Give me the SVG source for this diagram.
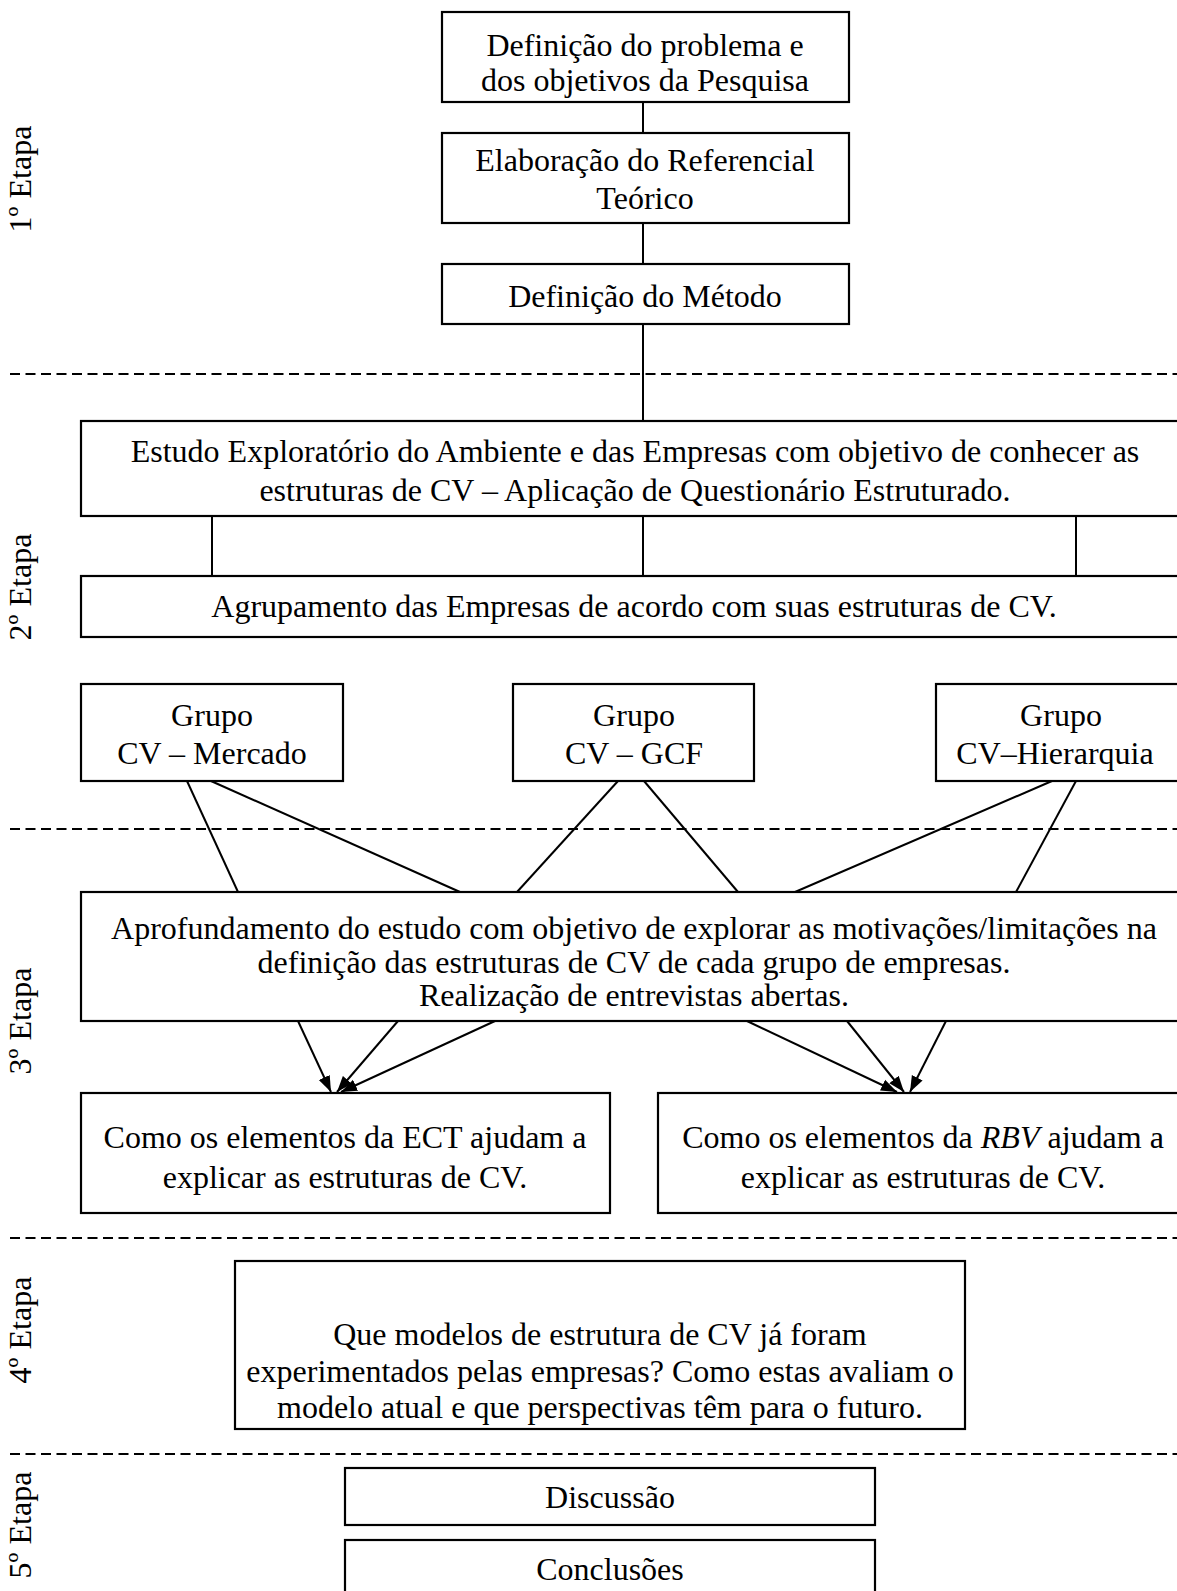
<svg xmlns="http://www.w3.org/2000/svg" width="1177" height="1591" viewBox="0 0 1177 1591">
  <style>
    .box { fill: #fff; stroke: #000; stroke-width: 2.2; }
    .t { font-family: "Liberation Serif", "Times New Roman", serif; font-size: 32px; fill: #000; text-anchor: middle; }
    .c { stroke: #000; stroke-width: 2; fill: none; }
    .arr { marker-end: url(#ah); }
    .sep { stroke: #000; stroke-width: 2; stroke-dasharray: 10 5.5; }
  </style>
  <defs>
    <marker id="ah" markerUnits="userSpaceOnUse" markerWidth="17" markerHeight="14" refX="16" refY="7" orient="auto">
      <path d="M0,1 L16,7 L0,13 z" fill="#000"/>
    </marker>
  </defs>

  <rect width="1177" height="1591" fill="#fff"/>

  <!-- stage separators -->
  <g id="separators">
    <line class="sep" x1="10" y1="374" x2="1177" y2="374"/>
    <line class="sep" x1="10" y1="829" x2="1177" y2="829"/>
    <line class="sep" x1="10" y1="1238" x2="1177" y2="1238"/>
    <line class="sep" x1="10" y1="1454" x2="1177" y2="1454"/>
  </g>

  <!-- stage labels -->
  <g id="stage-labels">
    <text class="t" transform="translate(31,179) rotate(-90)">1º Etapa</text>
    <text class="t" transform="translate(31,587) rotate(-90)">2º Etapa</text>
    <text class="t" transform="translate(31,1021) rotate(-90)">3º Etapa</text>
    <text class="t" transform="translate(31,1330) rotate(-90)">4º Etapa</text>
    <text class="t" transform="translate(31,1525) rotate(-90)">5º Etapa</text>
  </g>

  <!-- connectors -->
  <g id="connectors">
    <line class="c" x1="643" y1="102" x2="643" y2="133"/>
    <line class="c" x1="643" y1="223" x2="643" y2="264"/>
    <line class="c" x1="643" y1="324" x2="643" y2="421"/>
    <line class="c" x1="212" y1="516" x2="212" y2="576"/>
    <line class="c" x1="643" y1="516" x2="643" y2="576"/>
    <line class="c" x1="1076" y1="516" x2="1076" y2="576"/>
    <line class="c" x1="187" y1="781" x2="238" y2="892"/>
    <line class="c" x1="211" y1="781" x2="460" y2="892"/>
    <line class="c" x1="618" y1="781" x2="517" y2="892"/>
    <line class="c" x1="644" y1="781" x2="738" y2="892"/>
    <line class="c" x1="1052" y1="781" x2="795" y2="892"/>
    <line class="c" x1="1076" y1="781" x2="1016" y2="892"/>
    <line class="c arr" x1="298" y1="1021" x2="331" y2="1092"/>
    <line class="c arr" x1="398" y1="1021" x2="337" y2="1092"/>
    <line class="c arr" x1="495" y1="1021" x2="341" y2="1092"/>
    <line class="c arr" x1="747" y1="1021" x2="897" y2="1092"/>
    <line class="c arr" x1="847" y1="1021" x2="904" y2="1092"/>
    <line class="c arr" x1="946" y1="1021" x2="910" y2="1092"/>
  </g>

  <g id="n-problema">
    <rect class="box" x="442" y="12" width="407" height="90"/>
    <text class="t" x="645" y="56">Definição do problema e</text>
    <text class="t" x="645" y="91">dos objetivos da Pesquisa</text>
  </g>
  <g id="n-referencial">
    <rect class="box" x="442" y="133" width="407" height="90"/>
    <text class="t" x="645" y="171">Elaboração do Referencial</text>
    <text class="t" x="645" y="209">Teórico</text>
  </g>
  <g id="n-metodo">
    <rect class="box" x="442" y="264" width="407" height="60"/>
    <text class="t" x="645" y="307">Definição do Método</text>
  </g>
  <g id="n-exploratorio">
    <rect class="box" x="81" y="421" width="1110" height="95"/>
    <text class="t" x="635" y="462">Estudo Exploratório do Ambiente e das Empresas com objetivo de conhecer as</text>
    <text class="t" x="635" y="501">estruturas de CV – Aplicação de Questionário Estruturado.</text>
  </g>
  <g id="n-agrupamento">
    <rect class="box" x="81" y="576" width="1110" height="61"/>
    <text class="t" x="634" y="617">Agrupamento das Empresas de acordo com suas estruturas de CV.</text>
  </g>
  <g id="n-mercado">
    <rect class="box" x="81" y="684" width="262" height="97"/>
    <text class="t" x="212" y="726">Grupo</text>
    <text class="t" x="212" y="764">CV – Mercado</text>
  </g>
  <g id="n-gcf">
    <rect class="box" x="513" y="684" width="241" height="97"/>
    <text class="t" x="634" y="726">Grupo</text>
    <text class="t" x="634" y="764">CV – GCF</text>
  </g>
  <g id="n-hierarquia">
    <rect class="box" x="936" y="684" width="255" height="97"/>
    <text class="t" x="1061" y="726">Grupo</text>
    <text class="t" x="1055" y="764">CV–Hierarquia</text>
  </g>
  <g id="n-aprofundamento">
    <rect class="box" x="81" y="892" width="1110" height="129"/>
    <text class="t" x="634" y="939">Aprofundamento do estudo com objetivo de explorar as motivações/limitações na</text>
    <text class="t" x="634" y="973">definição das estruturas de CV de cada grupo de empresas.</text>
    <text class="t" x="634" y="1006">Realização de entrevistas abertas.</text>
  </g>
  <g id="n-ect">
    <rect class="box" x="81" y="1093" width="529" height="120"/>
    <text class="t" x="345" y="1148">Como os elementos da ECT ajudam a</text>
    <text class="t" x="345" y="1188">explicar as estruturas de CV.</text>
  </g>
  <g id="n-rbv">
    <rect class="box" x="658" y="1093" width="533" height="120"/>
    <text class="t" x="923" y="1148">Como os elementos da <tspan font-style="italic">RBV</tspan> ajudam a</text>
    <text class="t" x="923" y="1188">explicar as estruturas de CV.</text>
  </g>
  <g id="n-modelos">
    <rect class="box" x="235" y="1261" width="730" height="168"/>
    <text class="t" x="600" y="1345">Que modelos de estrutura de CV já foram</text>
    <text class="t" x="600" y="1382">experimentados pelas empresas? Como estas avaliam o</text>
    <text class="t" x="600" y="1418">modelo atual e que perspectivas têm para o futuro.</text>
  </g>
  <g id="n-discussao">
    <rect class="box" x="345" y="1468" width="530" height="57"/>
    <text class="t" x="610" y="1508">Discussão</text>
  </g>
  <g id="n-conclusoes">
    <rect class="box" x="345" y="1540" width="530" height="60"/>
    <text class="t" x="610" y="1580">Conclusões</text>
  </g>
</svg>
